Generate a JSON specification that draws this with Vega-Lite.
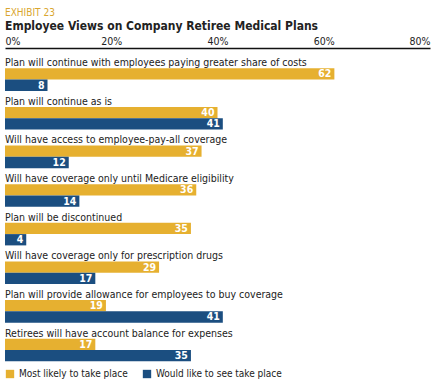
{
  "$schema": "https://vega.github.io/schema/vega-lite/v6.json",
  "width": 425,
  "height": 318,
  "padding": {"left": 5, "right": 5, "top": 8, "bottom": 0},
  "background": "white",
  "config": {
    "font": "DejaVu Sans Condensed, sans-serif",
    "view": {"stroke": null}
  },
  "title": {
    "text": "EXHIBIT 23",
    "subtitle": "Employee Views on Company Retiree Medical Plans",
    "anchor": "start",
    "color": "#D9A62E",
    "fontSize": 10,
    "fontWeight": "normal",
    "subtitleFontSize": 12,
    "subtitleFontWeight": "bold",
    "subtitleColor": "#222222",
    "subtitlePadding": 3,
    "offset": 4,
    "font": "DejaVu Sans Condensed, sans-serif",
    "subtitleFont": "DejaVu Sans Condensed, sans-serif"
  },
  "data": {
    "values": [
      {"item": "Plan will continue with employees paying greater share of costs", "series": "Most likely to take place", "value": 62},
      {"item": "Plan will continue with employees paying greater share of costs", "series": "Would like to see take place", "value": 8},
      {"item": "Plan will continue as is", "series": "Most likely to take place", "value": 40},
      {"item": "Plan will continue as is", "series": "Would like to see take place", "value": 41},
      {"item": "Will have access to employee-pay-all coverage", "series": "Most likely to take place", "value": 37},
      {"item": "Will have access to employee-pay-all coverage", "series": "Would like to see take place", "value": 12},
      {"item": "Will have coverage only until Medicare eligibility", "series": "Most likely to take place", "value": 36},
      {"item": "Will have coverage only until Medicare eligibility", "series": "Would like to see take place", "value": 14},
      {"item": "Plan will be discontinued", "series": "Most likely to take place", "value": 35},
      {"item": "Plan will be discontinued", "series": "Would like to see take place", "value": 4},
      {"item": "Will have coverage only for prescription drugs", "series": "Most likely to take place", "value": 29},
      {"item": "Will have coverage only for prescription drugs", "series": "Would like to see take place", "value": 17},
      {"item": "Plan will provide allowance for employees to buy coverage", "series": "Most likely to take place", "value": 19},
      {"item": "Plan will provide allowance for employees to buy coverage", "series": "Would like to see take place", "value": 41},
      {"item": "Retirees will have account balance for expenses", "series": "Most likely to take place", "value": 17},
      {"item": "Retirees will have account balance for expenses", "series": "Would like to see take place", "value": 35}
    ]
  },
  "encoding": {
    "y": {
      "field": "item",
      "type": "nominal",
      "sort": null,
      "axis": null,
      "scale": {"paddingInner": 0, "paddingOuter": 0.117, "align": 1}
    }
  },
  "layer": [
    {
      "mark": {"type": "bar", "cornerRadius": 0},
      "encoding": {
        "x": {
          "field": "value",
          "type": "quantitative",
          "scale": {"domain": [0, 80], "nice": false},
          "axis": {
            "orient": "top",
            "values": [0, 20, 40, 60, 80],
            "labelExpr": "datum.value + '%'",
            "grid": false,
            "ticks": false,
            "domainColor": "#111111",
            "domainWidth": 1.5,
            "labelFlush": true,
            "labelFontSize": 10.5,
            "labelColor": "#222222",
            "labelPadding": 2,
            "title": null
          }
        },
        "yOffset": {
          "field": "series",
          "type": "nominal",
          "scale": {"domain": ["label", "Most likely to take place", "Would like to see take place"], "paddingInner": 0, "paddingOuter": 0.21, "align": 0}
        },
        "color": {
          "field": "series",
          "type": "nominal",
          "scale": {"domain": ["Most likely to take place", "Would like to see take place"], "range": ["#E6B030", "#1B4E80"]},
          "legend": {
            "orient": "bottom",
            "direction": "horizontal",
            "title": null,
            "symbolType": "square",
            "symbolSize": 70,
            "symbolStrokeWidth": 0,
            "labelFontSize": 10,
            "labelColor": "#222222",
            "columnPadding": 14,
            "offset": 3,
            "padding": 0
          }
        }
      }
    },
    {
      "mark": {"type": "text", "align": "right", "baseline": "middle", "dx": -3, "dy": 0.5, "color": "white", "fontWeight": "bold", "fontSize": 10.5},
      "encoding": {
        "x": {"field": "value", "type": "quantitative"},
        "yOffset": {"field": "series", "type": "nominal"},
        "text": {"field": "value", "type": "quantitative"}
      }
    },
    {
      "transform": [{"filter": "datum.series === 'Most likely to take place'"}],
      "mark": {"type": "text", "align": "left", "baseline": "middle", "dy": 0.5, "color": "#222222", "fontSize": 10.5},
      "encoding": {
        "x": {"datum": 0, "type": "quantitative"},
        "yOffset": {"datum": "label", "type": "nominal"},
        "text": {"field": "item", "type": "nominal"}
      }
    }
  ]
}
